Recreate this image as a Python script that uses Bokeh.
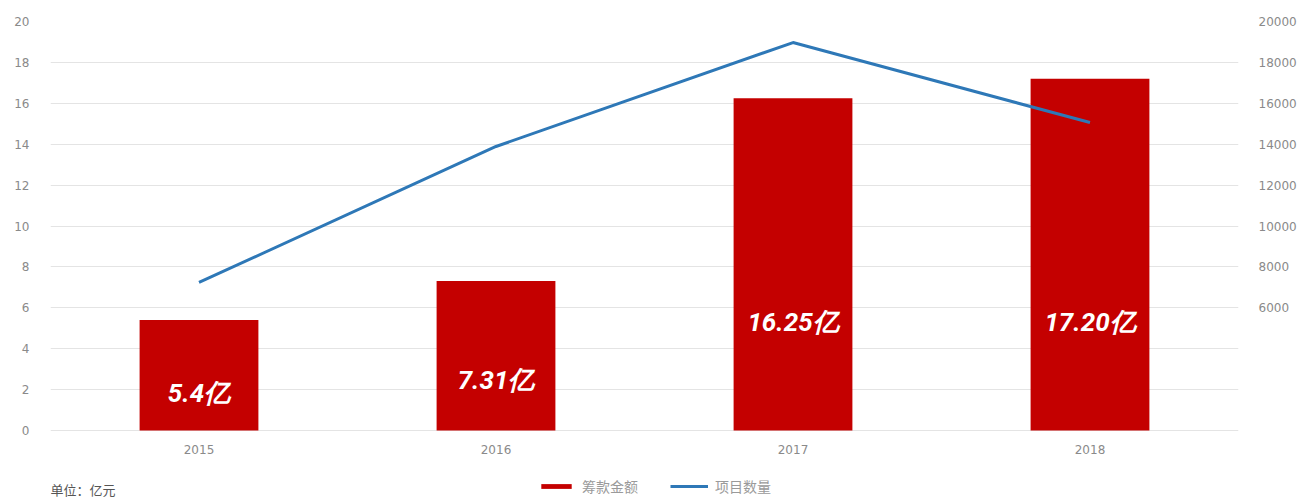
from bokeh.plotting import figure
from bokeh.models import (ColumnDataSource, Range1d, LinearAxis, FixedTicker,
                          Legend, LegendItem, Label)
from bokeh.core.properties import value
from bokeh.embed import file_html
from bokeh.resources import INLINE

years = ["2015", "2016", "2017", "2018"]
amounts = [5.4, 7.31, 16.25, 17.20]          # 筹款金额 (亿元)
amount_labels = ["5.4亿", "7.31亿", "16.25亿", "17.20亿"]
projects = [7240, 13890, 18970, 15060]       # 项目数量
left_ticks = [0, 2, 4, 6, 8, 10, 12, 14, 16, 18, 20]
right_ticks = [6000, 8000, 10000, 12000, 14000, 16000, 18000, 20000]

BAR = "#C40000"
LINE = "#2E78B7"
GREY = "#8a8a8a"
FONT = "DejaVu Sans"
CJK = "Noto Sans CJK SC"

Y_LOW = -3.47   # room below zero for category labels, legend and unit note

src = ColumnDataSource(dict(
    year=years, amount=amounts, label=amount_labels, proj=projects,
    label_y=[min(a * 0.34, 5.3) for a in amounts],
    cat_y=[-0.95] * len(years),
))

p = figure(width=1306, height=501, x_range=years, y_range=Range1d(Y_LOW, 20),
           output_backend="svg", toolbar_location=None, x_axis_location=None,
           min_border_left=50, min_border_right=68,
           min_border_top=21, min_border_bottom=0)
p.outline_line_color = None
p.background_fill_color = "white"
p.border_fill_color = "white"

p.extra_y_ranges = {"cnt": Range1d(Y_LOW * 1000, 20000)}

bars = p.vbar(x="year", top="amount", width=0.4, source=src,
              fill_color=BAR, line_color=None)
line = p.line(x="year", y="proj", source=src, y_range_name="cnt",
              line_color=LINE, line_width=3)

p.text(x="year", y="label_y", text="label", source=src,
       text_color="white", text_font=value("Roboto"), text_font_style="bold italic",
       text_font_size="26px", text_align="center", text_baseline="middle")

# category labels
p.text(x="year", y="cat_y", text="year", source=src,
       text_color=GREY, text_font=value(FONT), text_font_size="12px",
       text_align="center", text_baseline="middle")

# axes styling
p.yaxis.ticker = FixedTicker(ticks=left_ticks)
ax = p.yaxis[0]
ax.axis_line_color = None
ax.major_tick_line_color = None
ax.minor_tick_line_color = None
ax.major_label_text_color = GREY
ax.major_label_text_font = FONT
ax.major_label_text_font_size = "12px"
ax.major_label_standoff = 15

rax = LinearAxis(y_range_name="cnt", ticker=FixedTicker(ticks=right_ticks))
rax.axis_line_color = None
rax.major_tick_line_color = None
rax.minor_tick_line_color = None
rax.major_label_text_color = GREY
rax.major_label_text_font = FONT
rax.major_label_text_font_size = "12px"
rax.major_label_standoff = 14
p.add_layout(rax, "right")

p.xgrid.grid_line_color = None
p.ygrid.grid_line_color = "#e4e4e4"
p.ygrid.grid_line_width = 1

legend = Legend(items=[LegendItem(label="筹款金额", renderers=[bars]),
                       LegendItem(label="项目数量", renderers=[line])],
                orientation="horizontal", location=(487, 5),
                glyph_width=38, glyph_height=6, spacing=32,
                label_text_font=CJK, label_text_font_size="14px",
                label_text_color="#9a9a9a", label_standoff=7, label_height=14,
                border_line_color=None, background_fill_alpha=0,
                padding=0, margin=0)
p.add_layout(legend)

unit = Label(x=0, y=-2.9, text="单位：亿元", text_font=CJK,
             text_font_size="13px", text_color="#555555", text_align="left",
             text_baseline="middle")
p.add_layout(unit)

open("out.html", "w").write(file_html(p, INLINE))
